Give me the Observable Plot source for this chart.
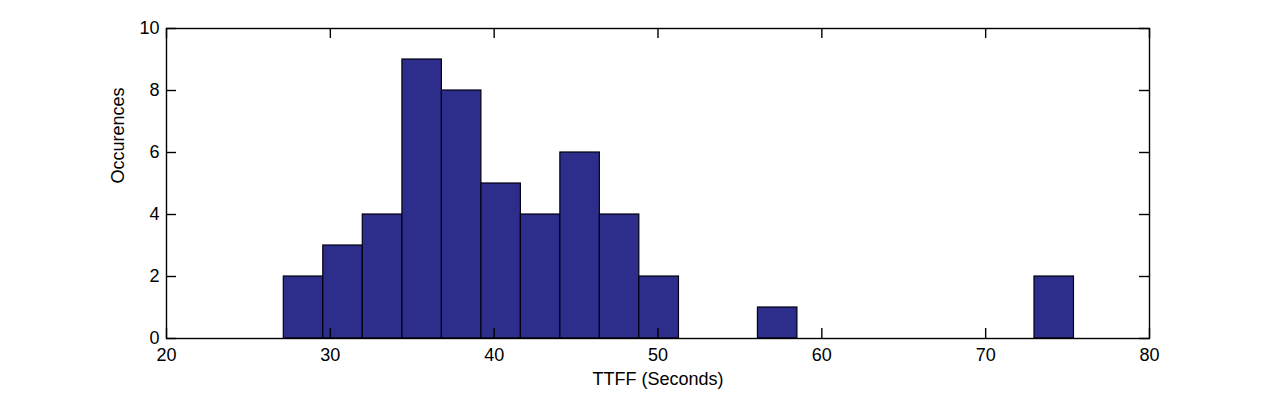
<!DOCTYPE html>
<html>
<head>
<meta charset="utf-8">
<script src="https://cdn.jsdelivr.net/npm/d3@7"></script>
<script src="https://cdn.jsdelivr.net/npm/@observablehq/plot@0.6"></script>
<style>
  html, body { margin: 0; padding: 0; background: #fff; }
  #chart svg { display: block; }
</style>
</head>
<body>
<div id="chart"></div>
<script>
// Histogram bin edges (seconds)
const binEdges = [27.16, 29.57, 31.98, 34.40, 36.81, 39.22, 41.63, 44.04, 46.45, 48.86,
                  51.28, 53.69, 56.10, 58.51, 60.92, 63.33, 65.74, 68.16, 70.57, 72.98, 75.39];
// Occurrence counts per bin
const counts = [2, 3, 4, 9, 8, 5, 4, 6, 4, 2, 0, 0, 1, 0, 0, 0, 0, 0, 0, 2];
const xTicks = [20, 30, 40, 50, 60, 70, 80];
const yTicks = [0, 2, 4, 6, 8, 10];
const xLabel = "TTFF (Seconds)";
const yLabel = "Occurences";

const bins = counts.map((c, i) => ({x1: binEdges[i], x2: binEdges[i + 1], count: c}))
                   .filter(d => d.count > 0);

const W = 1268, H = 393;
const mLeft = 166, mRight = 119, mTop = 28, mBottom = 55;
const plotW = W - mLeft - mRight, plotH = H - mTop - mBottom;
const tickLen = 10;

const chart = Plot.plot({
  width: W,
  height: H,
  marginLeft: mLeft,
  marginRight: mRight,
  marginTop: mTop,
  marginBottom: mBottom,
  style: {fontFamily: "'Liberation Sans', Arial, sans-serif", fontSize: "18px", background: "#fff", color: "#000"},
  x: {domain: [20, 80]},
  y: {domain: [0, 10]},
  marks: [
    Plot.rectY(bins, {x1: "x1", x2: "x2", y: "count", fill: "#2d2d8b", stroke: "#000010", strokeWidth: 1.2}),
    Plot.frame({stroke: "#000", strokeWidth: 1.4}),
    // inward ticks, MATLAB style, on all four sides
    Plot.ruleX(xTicks, {x: d => d, insetTop: plotH - tickLen, stroke: "#000", strokeWidth: 1.4}),
    Plot.ruleX(xTicks, {x: d => d, insetBottom: plotH - tickLen, stroke: "#000", strokeWidth: 1.4}),
    Plot.ruleY(yTicks, {y: d => d, insetRight: plotW - tickLen, stroke: "#000", strokeWidth: 1.4}),
    Plot.ruleY(yTicks, {y: d => d, insetLeft: plotW - tickLen, stroke: "#000", strokeWidth: 1.4}),
    Plot.axisX(xTicks, {tickSize: 0, tickPadding: 10, label: null, tickFormat: d => String(d)}),
    Plot.axisY(yTicks, {tickSize: 0, tickPadding: 7, label: null, tickFormat: d => String(d)}),
    Plot.text([xLabel], {text: d => d, frameAnchor: "bottom", lineAnchor: "top", dy: 34, fill: "#000"}),
    Plot.text([yLabel], {text: d => d, frameAnchor: "left", rotate: -90, dx: -48, fill: "#000"})
  ]
});
document.getElementById("chart").appendChild(chart);
</script>
</body>
</html>
